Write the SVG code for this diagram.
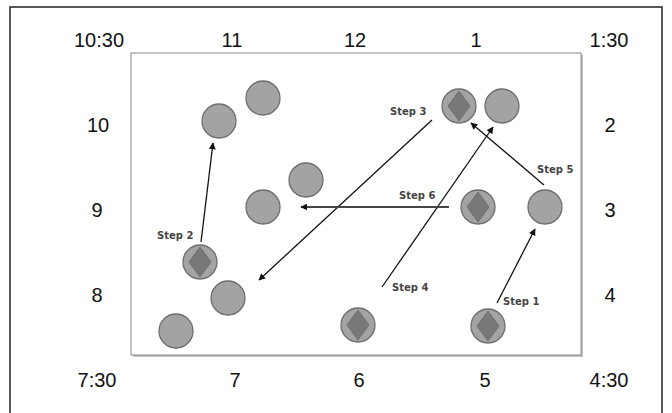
<svg xmlns="http://www.w3.org/2000/svg" width="672" height="413" viewBox="0 0 672 413">
  <style>
    .clock { font-family: "Liberation Sans", Arial, sans-serif; font-size: 20px; fill: #111; text-anchor: middle; }
    .step { font-family: "DejaVu Sans", sans-serif; font-weight: bold; font-size: 10px; fill: #444; }
    .pos { fill: #a3a3a3; stroke: #6e6e6e; stroke-width: 1.3; }
    .mark { fill: #787878; stroke: #6a6a6a; stroke-width: 0.8; }
    .move { stroke: #111; stroke-width: 1.3; fill: none; marker-end: url(#tip); }
  </style>
  <defs>
    <marker id="tip" viewBox="0 0 10 10" refX="9" refY="5" markerWidth="7" markerHeight="7" markerUnits="userSpaceOnUse" orient="auto">
      <path d="M0,0 L10,5 L0,10 z" fill="#111"/>
    </marker>
  </defs>

  <rect width="672" height="413" fill="#fff"/>
  <!-- outer frame, open at the bottom edge -->
  <path d="M10,420 V7 H662 V420" fill="none" stroke="#222" stroke-width="1.5"/>

  <!-- field with soft drop shadow -->
  <rect x="133" y="55" width="450" height="302" fill="#c0c0c0"/>
  <rect x="131" y="53" width="450" height="302" fill="#fff" stroke="#8a8a8a" stroke-width="1"/>

  <!-- clock positions -->
  <g id="clock-labels">
    <text class="clock" x="99" y="47">10:30</text>
    <text class="clock" x="232" y="47">11</text>
    <text class="clock" x="355" y="47">12</text>
    <text class="clock" x="476" y="47">1</text>
    <text class="clock" x="609" y="47">1:30</text>
    <text class="clock" x="98" y="132">10</text>
    <text class="clock" x="97" y="217">9</text>
    <text class="clock" x="97" y="302">8</text>
    <text class="clock" x="610" y="132">2</text>
    <text class="clock" x="610" y="217">3</text>
    <text class="clock" x="610" y="302">4</text>
    <text class="clock" x="97" y="387">7:30</text>
    <text class="clock" x="235" y="387">7</text>
    <text class="clock" x="359" y="387">6</text>
    <text class="clock" x="485" y="387">5</text>
    <text class="clock" x="609" y="387">4:30</text>
  </g>

  <!-- player spots -->
  <g id="spot-a"><circle class="pos" cx="219" cy="121" r="17"/></g>
  <g id="spot-b"><circle class="pos" cx="263" cy="98" r="17"/></g>
  <g id="spot-c"><circle class="pos" cx="306" cy="180" r="17"/></g>
  <g id="spot-d"><circle class="pos" cx="263" cy="207" r="17"/></g>
  <g id="spot-e"><circle class="pos" cx="459" cy="106" r="17"/><path class="mark" d="M459,91 L470,106 L459,121 L448,106 z"/></g>
  <g id="spot-f"><circle class="pos" cx="502" cy="106" r="17"/></g>
  <g id="spot-g"><circle class="pos" cx="478" cy="207" r="17"/><path class="mark" d="M478,192 L489,207 L478,222 L467,207 z"/></g>
  <g id="spot-h"><circle class="pos" cx="545" cy="207" r="17"/></g>
  <g id="spot-i"><circle class="pos" cx="200" cy="262" r="17"/><path class="mark" d="M200,247 L211,262 L200,277 L189,262 z"/></g>
  <g id="spot-j"><circle class="pos" cx="228" cy="298" r="17"/></g>
  <g id="spot-k"><circle class="pos" cx="176" cy="331" r="17"/></g>
  <g id="spot-l"><circle class="pos" cx="358" cy="325" r="17"/><path class="mark" d="M358,310 L369,325 L358,340 L347,325 z"/></g>
  <g id="spot-m"><circle class="pos" cx="488" cy="326" r="17"/><path class="mark" d="M488,311 L499,326 L488,341 L477,326 z"/></g>

  <!-- movement sequence -->
  <g id="moves">
    <line class="move" x1="497" y1="303" x2="535" y2="229"/>
    <line class="move" x1="201" y1="242" x2="213" y2="143"/>
    <line class="move" x1="432" y1="120" x2="259" y2="280"/>
    <line class="move" x1="382" y1="287" x2="493" y2="127"/>
    <line class="move" x1="544" y1="185" x2="471" y2="123"/>
    <line class="move" x1="449" y1="207" x2="301" y2="207" style="stroke:#444;stroke-width:2"/>
  </g>

  <g id="step-labels">
    <text class="step" x="503" y="305">Step 1</text>
    <text class="step" x="157" y="239">Step 2</text>
    <text class="step" x="390" y="115">Step 3</text>
    <text class="step" x="392" y="291">Step 4</text>
    <text class="step" x="537" y="173">Step 5</text>
    <text class="step" x="399" y="199">Step 6</text>
  </g>
</svg>
